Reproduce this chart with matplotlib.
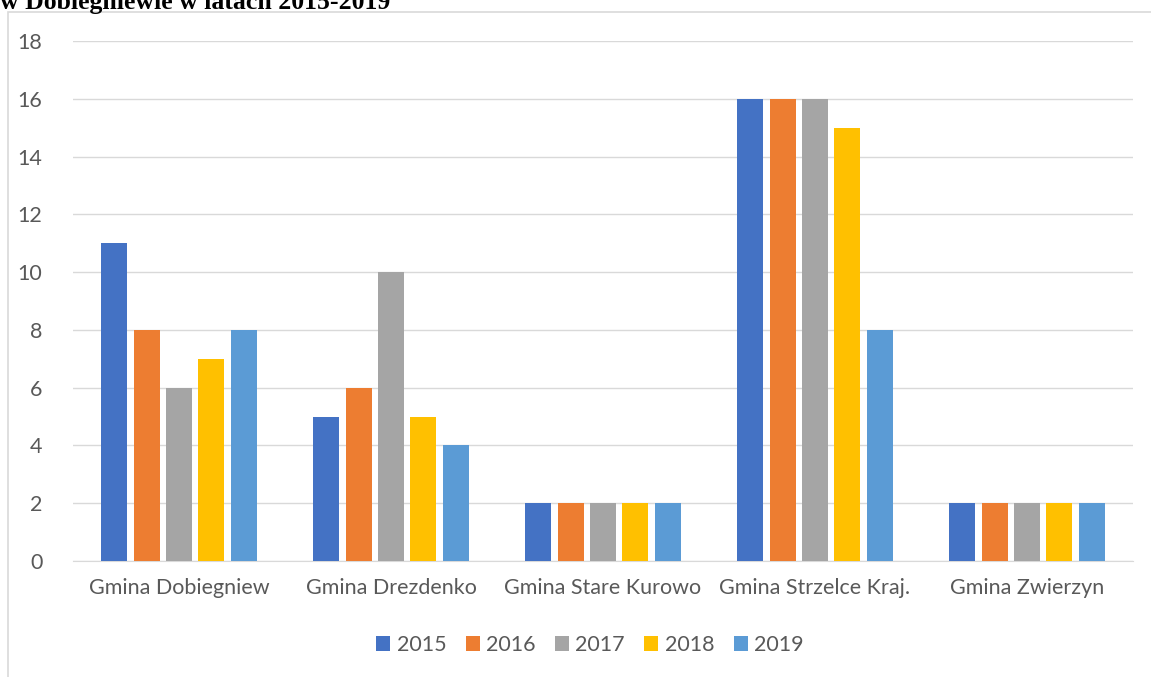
import matplotlib
matplotlib.use("Agg")
import matplotlib.pyplot as plt
import numpy as np
from matplotlib.patches import Rectangle

plt.rcParams['font.family'] = ['Lato', 'DejaVu Sans']

# data
gminy = ['Gmina Dobiegniew', 'Gmina Drezdenko', 'Gmina Stare Kurowo',
         'Gmina Strzelce Kraj.', 'Gmina Zwierzyn']
years = ['2015', '2016', '2017', '2018', '2019']
v2015 = [11, 5, 2, 16, 2]
v2016 = [8, 6, 2, 16, 2]
v2017 = [6, 10, 2, 16, 2]
v2018 = [7, 5, 2, 15, 2]
v2019 = [8, 4, 2, 8, 2]
series = [v2015, v2016, v2017, v2018, v2019]
colors = ['#4472C4', '#ED7D31', '#A5A5A5', '#FFC000', '#5B9BD5']

fig = plt.figure(figsize=(11.51, 6.77), dpi=100)

# outer chart frame (cut off at right/bottom like in the document)
fig.patches.append(Rectangle((8 / 1151, -0.05), 1.2, 1 - 12 / 677 + 0.05,
                             transform=fig.transFigure, fill=False,
                             edgecolor='#d9d9d9', linewidth=1.2))

# clipped caption from the document above
fig.text(0.0, 1 - 9 / 677, 'w Dobiegniewie w latach 2015-2019', ha='left', va='baseline',
         fontsize=18.5, fontweight='bold', family=['Liberation Serif', 'DejaVu Serif'])

ax = fig.add_axes([73 / 1151, 1 - 561 / 677, (1133 - 73) / 1151, (561 - 41) / 677])

x = np.arange(len(gminy))
step = 0.153
width = 0.123
for i, (vals, col, yr) in enumerate(zip(series, colors, years)):
    ax.bar(x + (i - 2) * step, vals, width, color=col, label=yr, zorder=3)

ax.set_xlim(-0.5, len(gminy) - 0.5)
ax.set_ylim(0, 18)
ax.set_yticks(range(0, 19, 2))
ax.yaxis.grid(True, color='#d9d9d9', linewidth=1, zorder=0)
ax.set_xticks(x)
ax.set_xticklabels(gminy)
ax.tick_params(axis='both', length=0, labelsize=15.5, labelcolor='#595959')
ax.tick_params(axis='x', pad=12)
ax.tick_params(axis='y', pad=22)
for s in ['top', 'right', 'left']:
    ax.spines[s].set_visible(False)
ax.spines['bottom'].set_color('#d9d9d9')

leg = fig.legend(loc='center', bbox_to_anchor=(590 / 1151, 1 - 645 / 677), ncol=5,
                 frameon=False, fontsize=15.5, handlelength=0.65, handleheight=0.65,
                 columnspacing=0.9, handletextpad=0.3)
for t in leg.get_texts():
    t.set_color('#595959')

fig.savefig('out.png', dpi=100)
